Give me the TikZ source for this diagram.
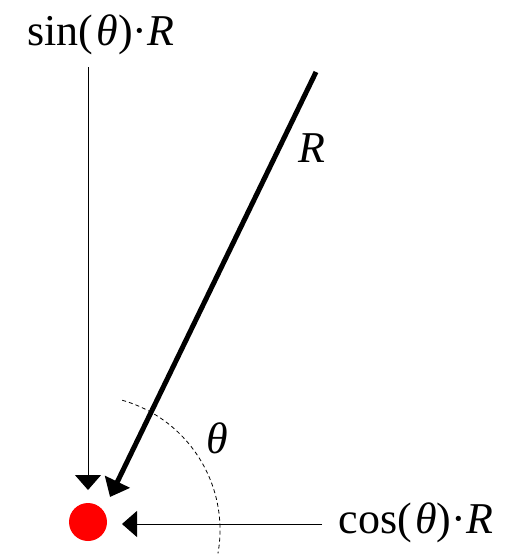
\documentclass[tikz,border=0pt]{standalone}
\usepackage{fontspec}
\setmainfont{Liberation Serif}
\usetikzlibrary{arrows.meta,calc}
\newcommand{\ang}{\textit{θ}}

\begin{document}
\begin{tikzpicture}[x=1pt,y=-1pt,
  thinarr/.style={line width=1pt,-{Triangle[length=15pt,width=26pt]}},
  thickarr/.style={line width=5pt,-{Triangle[length=17pt,width=27pt]}},
  lbl/.style={font=\fontsize{44}{50}\selectfont,inner sep=0pt,anchor=base}]
\useasboundingbox (0,0) rectangle (508,554);

\node[circle,fill=red,minimum size=38pt,inner sep=0pt] (dot) at (88,522) {};
\node[lbl] (sinlbl) at (101,45) {sin(\kern3pt\ang)·\textit{R}};
\node[lbl] (coslbl) at (416,533) {cos(\kern3pt\ang)·\textit{R}};
\node[lbl] (rlbl) at (312,162) {\textit{R}};
\node[lbl] (anglbl) at (217,453) {\ang};

\coordinate (sintop) at (88,67);
\coordinate (sintip) at (88,490);
\coordinate (costail) at (322,524);
\coordinate (costip) at (122,524);
\coordinate (rtail) at (316,72);
\coordinate (rtip) at (110,497);

\draw[thinarr] (sintop) -- (sintip);
\draw[thinarr] (costail) -- (costip);
\draw[thickarr] (rtail) -- (rtip);

% angle arc
\draw[dashed,line width=0.8pt,dash pattern=on 4pt off 3pt] (85,530) ++(-74:135) arc (-74:10:135);
\end{tikzpicture}
\end{document}
